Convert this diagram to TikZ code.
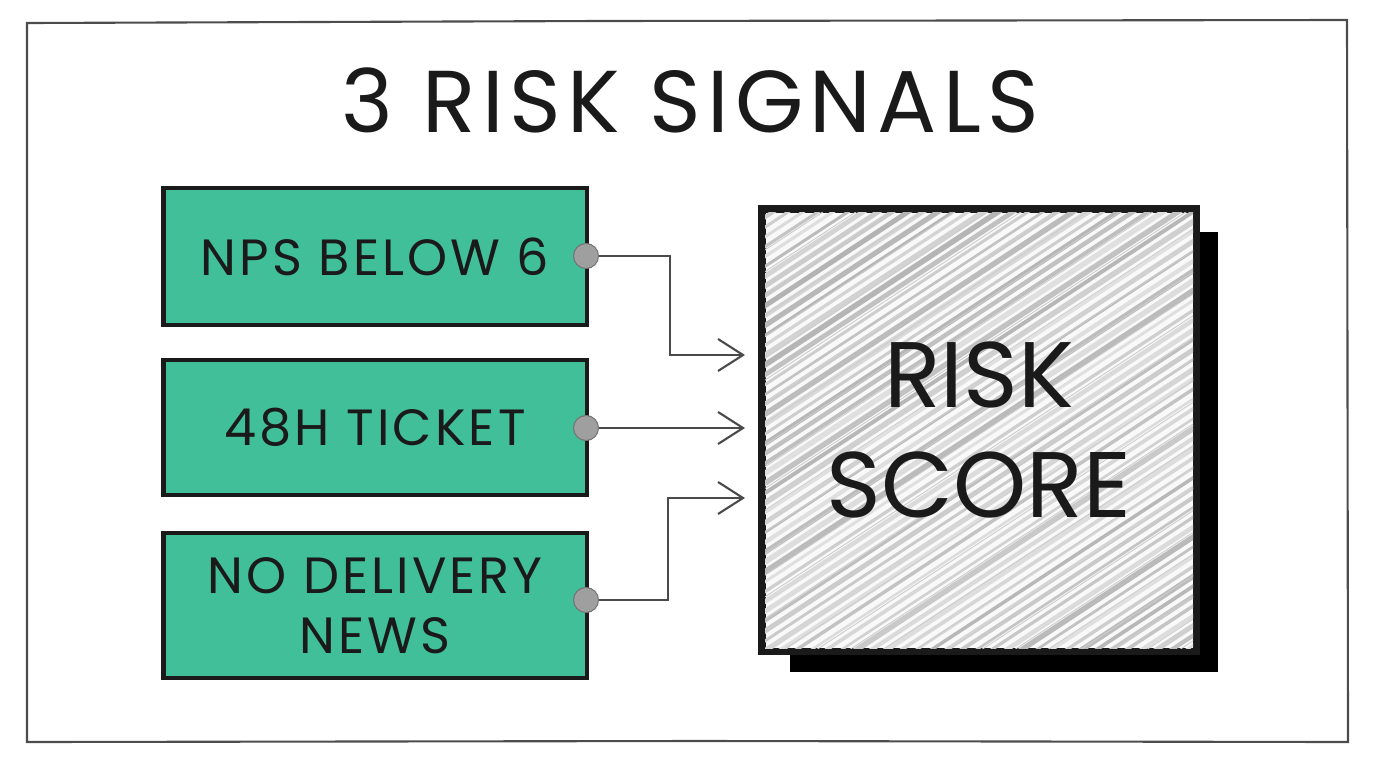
\documentclass[tikz,border=0pt]{standalone}
\usepackage{fontspec}
\setmainfont{Poppins}
\usetikzlibrary{arrows.meta}
\definecolor{green1}{HTML}{40BF98}
\definecolor{ink}{HTML}{1A1A1A}
\definecolor{wire}{HTML}{4A4A4A}
\tikzset{
  signal/.style={draw=ink, line width=2.8pt, fill=green1, minimum width=8.48cm, text=ink, font=\fontsize{29}{34}\selectfont\addfontfeatures{LetterSpace=6}, align=center, inner sep=0pt},
  dot/.style={circle, fill=gray!75, draw=gray!90!black, line width=0.6pt, minimum size=0.5cm, inner sep=0pt},
  conn/.style={draw=wire, line width=1.1pt, -{Straight Barb[length=0.5cm,width=0.64cm,line width=1.2pt]}},
  frame/.style={draw=gray!60!black, line width=1.2pt}
}
\begin{document}
\begin{tikzpicture}[x=0.02cm,y=-0.02cm]
\useasboundingbox (0,0) rectangle (1376,768);
% frame
\draw[frame] (27,23) -- (600,21) -- (1347,20) -- (1348,742) -- (700,741) -- (27,742) -- cycle;
% title
\node[text=ink, font=\fontsize{50}{56}\selectfont\addfontfeatures{LetterSpace=7}] (title) at (690,100) {3 RISK SIGNALS};
% risk score shadow
\fill[black] (790,232) rectangle (1218,672);
% risk box
\node[draw=ink, line width=2.8pt, fill=gray!5, minimum width=8.64cm, minimum height=8.8cm, inner sep=0pt] (risk) at (979,430) {};
\begin{scope}
\clip (765,212) rectangle (1193,648);
\pgfmathsetseed{7}
\foreach \i in {-60,-45,...,1250}{
  \pgfmathsetmacro{\g}{12+rnd*18}
  \pgfmathsetmacro{\w}{1.4+rnd*1.8}
  \draw[black!\g, line width=\w pt] (\i,700) -- ++(1000,-657);
}
\foreach \i in {-52,-19,...,1250}{
  \draw[gray!40, line width=0.5pt] (\i,700) -- ++(1000,-657);
}
\end{scope}
\draw[ink, line width=2.8pt] (risk.north west) rectangle (risk.south east);
\node[text=ink, font=\fontsize{53}{63}\selectfont, align=center] (risklabel) at (979,430) {RISK\\SCORE};
% signals
\node[signal, minimum height=2.74cm] (s1) at (375,256.5) {NPS BELOW 6};
\node[signal, minimum height=2.7cm] (s2) at (375,427.5) {48H TICKET};
\node[signal, minimum height=2.9cm] (s3) at (375,605.5) {NO DELIVERY\\NEWS};
% dots
\node[dot] (d1) at (586,256) {};
\node[dot] (d2) at (586,428) {};
\node[dot] (d3) at (586,600) {};
% connectors
\coordinate (a1) at (745,355);
\coordinate (a2) at (745,428);
\coordinate (a3) at (745,498);
\draw[conn] (d1.east) -- (670,256) -- (670,355) -- (a1);
\draw[conn] (d2.east) -- (a2);
\draw[conn] (d3.east) -- (668,600) -- (668,498) -- (a3);
\end{tikzpicture}
\end{document}
